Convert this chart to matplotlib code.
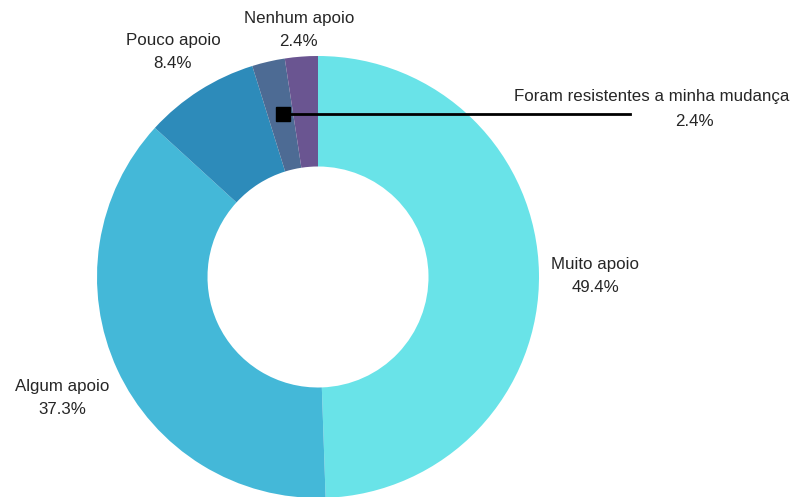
import matplotlib.pyplot as plt

# data
labels = ["Muito apoio", "Algum apoio", "Pouco apoio",
          "Foram resistentes a minha mudança", "Nenhum apoio"]
values = [49.4, 37.3, 8.4, 2.4, 2.4]
pct_labels = ["49.4%", "37.3%", "8.4%", "2.4%", "2.4%"]
colors = ["#69e3e8", "#44b8d8", "#2d8bba", "#4d6b94", "#6a5591"]

plt.rcParams['font.family'] = ['Liberation Sans', 'DejaVu Sans']

W, H = 793, 497
fig = plt.figure(figsize=(W / 100, H / 100), dpi=100)
ax = fig.add_axes([0, 0, 1, 1])

cx, cy, r = 318, H - 277, 221
ax.pie(values, colors=colors, startangle=90, counterclock=False,
       radius=r, center=(cx, cy), frame=True,
       wedgeprops=dict(width=r * 0.5, linewidth=0))
ax.set_xlim(0, W)
ax.set_ylim(0, H)
ax.set_aspect('equal')
ax.axis('off')

# label positions (pixel coords from top-left): name line, percent line
label_pos = [
    ((595, 264), (595, 287)),
    ((62, 386), (62, 410)),
    ((173, 40), (172, 63)),
    ((652, 96), (694, 122)),
    ((299, 18), (298, 42)),
]
for name, pct, (p1, p2) in zip(labels, pct_labels, label_pos):
    ax.text(p1[0], H - p1[1], name, ha='center', va='center',
            fontsize=12.2, color='#262626')
    ax.text(p2[0], H - p2[1], pct, ha='center', va='center',
            fontsize=12.2, color='#262626')

# leader line for the small slice
ax.plot([283, 630], [H - 114, H - 114], color='black', lw=2)
ax.plot([283], [H - 114], marker='s', markersize=10.5, color='black')

fig.savefig("out.png", dpi=100)
